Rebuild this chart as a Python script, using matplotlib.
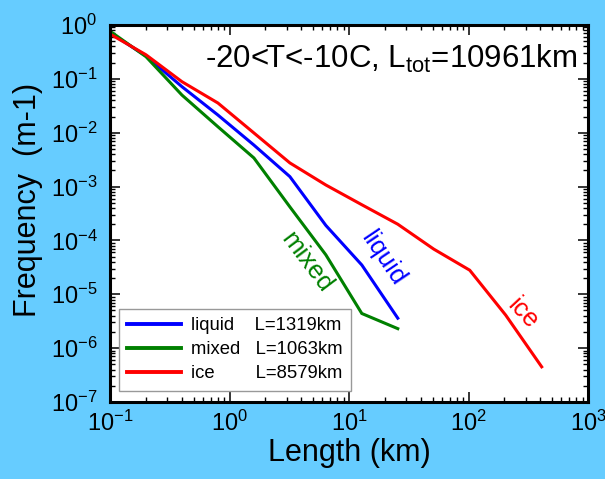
import matplotlib
matplotlib.use("Agg")
import matplotlib.pyplot as plt
from matplotlib.ticker import LogLocator, NullFormatter

plt.rcParams['font.family'] = ['Liberation Sans', 'DejaVu Sans']
plt.rcParams['mathtext.fontset'] = 'custom'
plt.rcParams['mathtext.rm'] = 'Liberation Sans'
plt.rcParams['mathtext.it'] = 'Liberation Sans:italic'
plt.rcParams['mathtext.bf'] = 'Liberation Sans:bold'

# Segment-length bins (km), doubling from 0.1 km
length_bins = [0.1, 0.2, 0.4, 0.8, 1.6, 3.2, 6.4, 12.8, 25.6, 51.2, 102.4, 204.8, 409.6]

liquid_freq = [0.72, 0.266, 0.0716, 0.0213, 5.9e-3, 1.53e-3, 1.9e-4, 3.5e-5, 3.6e-6]
mixed_freq = [0.77, 0.258, 0.050, 0.0129, 3.4e-3, 4.2e-4, 5.4e-5, 4.4e-6, 2.3e-6]
ice_freq = [0.68, 0.28, 0.0886, 0.0356, 9.9e-3, 2.75e-3, 1.07e-3, 4.6e-4, 2.0e-4,
            6.9e-5, 2.8e-5, 4.1e-6, 4.5e-7]

phase_names = ["liquid", "mixed", "ice"]
phase_totals_km = [1319, 1063, 8579]
total_km = 10961
temp_range = "-20<T<-10C"

colors = ["#0000ff", "#008000", "#ff0000"]
series = [liquid_freq, mixed_freq, ice_freq]

fig = plt.figure(figsize=(6.05, 4.79), dpi=100)
fig.patch.set_facecolor("#66ccff")
ax = fig.add_axes([110 / 605, (479 - 402) / 479, 478 / 605, 377 / 479])
ax.set_facecolor("white")

# Legend labels, padded with spaces so the L= column lines up
pad = {"liquid": 4, "mixed": 3, "ice": 8}
for name, total, freq, col in zip(phase_names, phase_totals_km, series, colors):
    label = name + " " * pad[name] + f"L={total}km"
    ax.plot(length_bins[:len(freq)], freq, color=col, lw=2.2, label=label,
            solid_joinstyle="miter")

ax.set_xscale("log")
ax.set_yscale("log")
ax.set_xlim(0.1, 1000)
ax.set_ylim(1e-7, 1)

ax.xaxis.set_major_locator(LogLocator(base=10, numticks=10))
ax.yaxis.set_major_locator(LogLocator(base=10, numticks=10))
ax.xaxis.set_minor_locator(LogLocator(base=10, subs=range(2, 10), numticks=20))
ax.yaxis.set_minor_locator(LogLocator(base=10, subs=range(2, 10), numticks=20))
ax.xaxis.set_minor_formatter(NullFormatter())
ax.yaxis.set_minor_formatter(NullFormatter())

ax.tick_params(which="both", direction="in", top=True, right=True, colors="black")
ax.tick_params(which="major", length=7.5, width=1.1, labelsize=17)
ax.tick_params(which="minor", length=3.8, width=1.0)
ax.tick_params(axis="x", which="major", pad=6)
ax.tick_params(axis="y", which="major", pad=9)
for sp in ax.spines.values():
    sp.set_linewidth(2.2)
    sp.set_color("black")

ax.set_xlabel("Length (km)", fontsize=22, labelpad=2)
ax.set_ylabel("Frequency  (m-1)", fontsize=22)
ax.yaxis.set_label_coords(-0.14, 0.536)

ax.text(0.979, 0.91, temp_range + ", L$_{\\mathrm{tot}}$=" + f"{total_km}km",
        transform=ax.transAxes, ha="right", va="center", fontsize=22.5)

# Curve labels along the lines
ax.text(4.4, 4.0e-5, "mixed", color=colors[1], fontsize=18.5, rotation=-53,
        ha="center", va="center")
ax.text(19.3, 4.7e-5, "liquid", color=colors[0], fontsize=18.5, rotation=-56,
        ha="center", va="center")
ax.text(286, 4.5e-6, "ice", color=colors[2], fontsize=18.5, rotation=-47,
        ha="center", va="center")

leg = ax.legend(loc="lower left", bbox_to_anchor=(0.019, 0.03), fontsize=13.3,
                handlelength=2.9, handletextpad=0.55, borderpad=0.45,
                labelspacing=0.38, fancybox=False, framealpha=1,
                edgecolor="#999999", borderaxespad=0)
leg.get_frame().set_linewidth(1.0)
for line in leg.get_lines():
    line.set_linewidth(2.8)

fig.savefig("out.png", dpi=100, facecolor=fig.get_facecolor())
